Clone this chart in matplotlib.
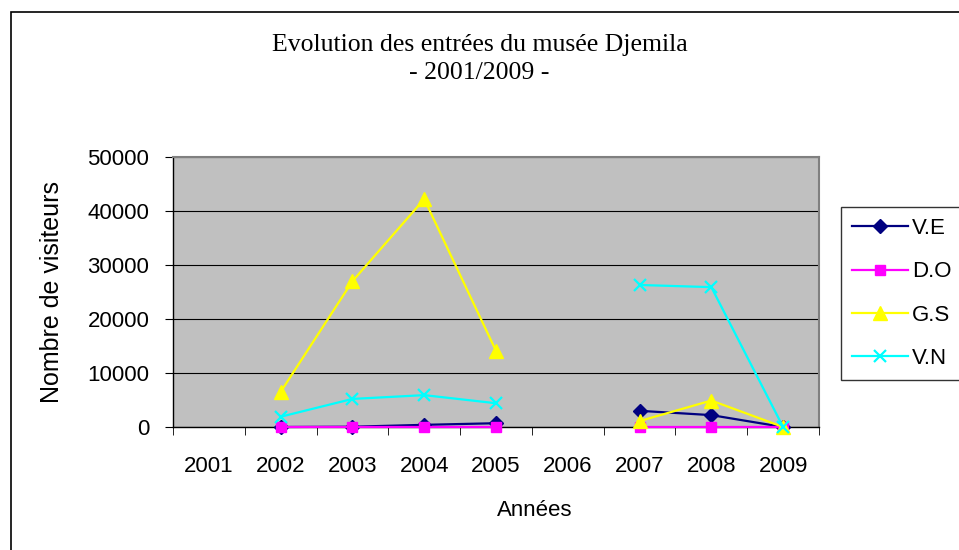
import numpy as np
import matplotlib.pyplot as plt
from matplotlib.patches import Rectangle

years = ['2001', '2002', '2003', '2004', '2005', '2006', '2007', '2008', '2009']
nan = np.nan
ve = [nan, 0, 50, 400, 700, nan, 3000, 2200, 0]
do = [nan, 0, 0, 0, 0, nan, 0, 0, 0]
gs = [nan, 6500, 27000, 42200, 14100, nan, 1100, 4900, 0]
vn = [nan, 1900, 5200, 5900, 4400, nan, 26300, 25900, 0]

series = [
    ('V.E', ve, '#000080', 'D', 7),
    ('D.O', do, '#FF00FF', 's', 7),
    ('G.S', gs, '#FFFF00', '^', 10),
    ('V.N', vn, '#00FFFF', 'x', 9),
]

W, H = 959, 550
fig = plt.figure(figsize=(W / 100, H / 100), dpi=100)
fig.patches.append(Rectangle((11 / W, -0.1), 1.2, 1.1 - 12 / H, transform=fig.transFigure,
                             fill=False, edgecolor='black', linewidth=1.2))

ax = fig.add_axes([173 / W, (H - 427) / H, (819 - 173) / W, (427 - 157) / H])
ax.set_facecolor('#C0C0C0')

x = np.arange(len(years))
for name, vals, col, mk, ms in series:
    ax.plot(x, vals, color=col, marker=mk, markersize=ms, markerfacecolor=col,
            markeredgecolor=col, markeredgewidth=1.6 if mk == 'x' else 1,
            linewidth=1.6, label=name, clip_on=False, zorder=3)

ax.set_xlim(-0.5, len(years) - 0.5)
ax.set_ylim(0, 50000)
ax.set_yticks(range(0, 50001, 10000))
ax.set_yticklabels([str(v) for v in range(0, 50001, 10000)])
ax.set_xticks(x)
ax.set_xticklabels(years)
ax.set_xticks(np.arange(-0.5, len(years), 1), minor=True)
ax.tick_params(axis='x', which='major', length=0, pad=21)
ax.tick_params(axis='x', which='minor', length=6, direction='out', color='black')
ax.tick_params(axis='y', length=6, direction='out', pad=11)
for lab in ax.get_xticklabels() + ax.get_yticklabels():
    lab.set_fontfamily('Liberation Sans')
    lab.set_fontsize(16)

ax.grid(axis='y', color='black', linewidth=0.8)
ax.set_axisbelow(True)
for s in ['top', 'right']:
    ax.spines[s].set_color('#808080')
    ax.spines[s].set_linewidth(1.5)
for s in ['left', 'bottom']:
    ax.spines[s].set_color('black')
    ax.spines[s].set_linewidth(1)

ax.set_xlabel('Années', fontfamily='Liberation Sans', fontsize=16, va='center')
ax.xaxis.set_label_coords((535 - 173) / 646, (427 - 511) / 270)
ax.set_ylabel('Nombre de visiteurs', fontfamily='Liberation Sans', fontsize=18, va='center')
ax.yaxis.set_label_coords((52 - 173) / 646, 0.5)

fig.text(0.5, (H - 51) / H, 'Evolution des entrées du musée Djemila', ha='center', va='baseline',
         fontfamily='Liberation Serif', fontsize=18.5)
fig.text(0.5, (H - 79) / H, '- 2001/2009 -', ha='center', va='baseline',
         fontfamily='Liberation Serif', fontsize=18.5)

leg = fig.legend(loc='upper left', bbox_to_anchor=(841 / W, (H - 207) / H),
                 prop={'family': 'Liberation Sans', 'size': 16}, frameon=True,
                 fancybox=False, edgecolor='black', handlelength=2.5,
                 borderpad=0.5, labelspacing=1.0, handletextpad=0.2, borderaxespad=0)
leg.get_frame().set_linewidth(1)

fig.savefig('out.png', dpi=100)
